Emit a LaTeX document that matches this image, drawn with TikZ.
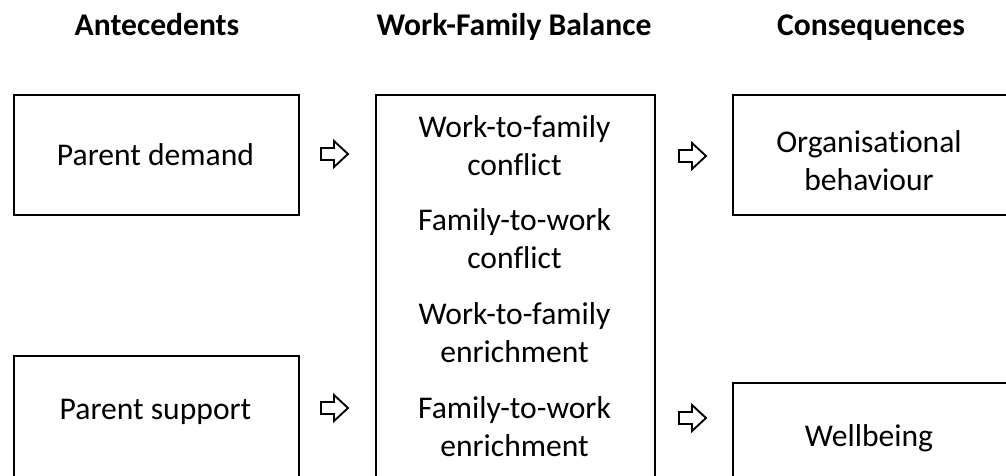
\documentclass[tikz,border=0pt]{standalone}
\usepackage{fontspec}
\setmainfont[Ligatures=NoCommon]{Carlito}
\begin{document}
\begin{tikzpicture}[x=0.75pt,y=-0.75pt,
  box/.style={draw, line width=1.5pt, rectangle, inner sep=0pt, anchor=north west},
  txt/.style={font=\fontsize{23.7}{28.5}\selectfont, anchor=base, inner sep=0pt},
  ttl/.style={font=\fontsize{23.7}{28.5}\selectfont\bfseries, anchor=base, inner sep=0pt},
  blockarrow/.style={draw, line width=1.4pt, line join=miter}]
\useasboundingbox (0,0) rectangle (1006,475);
\clip (0,0) rectangle (1006,475);
% titles
\node[ttl] (t1) at (157,35) {Antecedents};
\node[ttl] (t2) at (514,35) {Work-Family Balance};
\node[ttl] (t3) at (871,35) {Consequences};
% boxes
\node[box, minimum width=213.75pt, minimum height=90pt] (demand) at (13,94) {};
\node[box, minimum width=213.75pt, minimum height=105pt] (support) at (13,355) {};
\node[box, minimum width=209.25pt, minimum height=300pt] (wfb) at (375,94) {};
\node[box, minimum width=205.5pt, minimum height=90pt] (org) at (732,94) {};
\node[box, minimum width=205.5pt, minimum height=105pt] (well) at (732,382) {};
% box texts
\node[txt] (demandtxt) at (155.5,165) {Parent demand};
\node[txt] (supporttxt) at (155.5,419) {Parent support};
\node[txt] (orgtxt1) at (869,152) {Organisational};
\node[txt] (orgtxt2) at (869,190) {behaviour};
\node[txt] (welltxt) at (869,446) {Wellbeing};
\node[txt] (m1a) at (514.5,137) {Work-to-family};
\node[txt] (m1b) at (514.5,175) {conflict};
\node[txt] (m2a) at (514.5,230) {Family-to-work};
\node[txt] (m2b) at (514.5,268) {conflict};
\node[txt] (m3a) at (514.5,324) {Work-to-family};
\node[txt] (m3b) at (514.5,362) {enrichment};
\node[txt] (m4a) at (514.5,418) {Family-to-work};
\node[txt] (m4b) at (514.5,456) {enrichment};
% hollow block arrows
\foreach \cx/\cy in {334/154, 334/408, 692/156, 692/418}{
  \draw[blockarrow, shift={(\cx,\cy)}] (-13,-6) -- (0,-6) -- (0,-13) -- (14,0) -- (0,13) -- (0,6) -- (-13,6) -- cycle;
}
\end{tikzpicture}
\end{document}
